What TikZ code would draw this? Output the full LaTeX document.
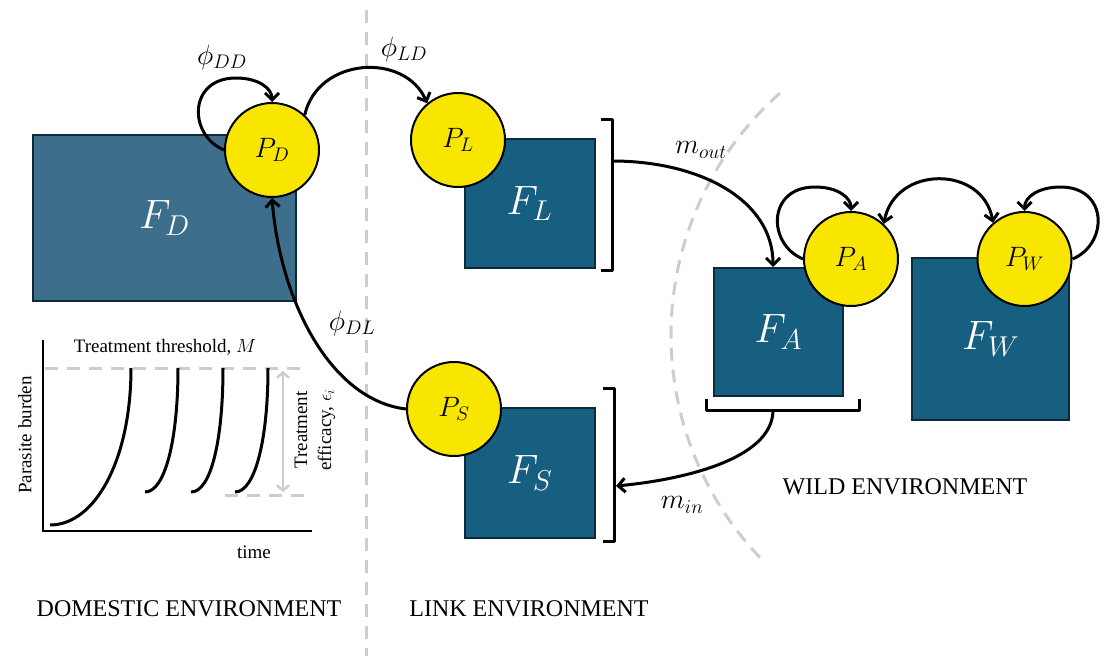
\RequirePackage{fix-cm}
\documentclass[tikz,border=0pt]{standalone}
\usepackage{fontspec}
\setmainfont{Liberation Serif}
\usetikzlibrary{arrows.meta,calc}
\definecolor{boxblue}{HTML}{175F80}
\definecolor{boxblueD}{HTML}{3D6F8D}
\definecolor{boxline}{HTML}{0D2A3A}
\definecolor{pyellow}{HTML}{F8E600}
\definecolor{dgray}{HTML}{CDCDCD}
\begin{document}
\begin{tikzpicture}[x=1pt,y=-1pt,
  fbox/.style={draw=boxline, line width=2pt, fill=boxblue, text=white, inner sep=0pt, font=\fontsize{41}{45}\selectfont},
  pcirc/.style={circle, draw=black, line width=2pt, fill=pyellow, minimum size=94pt, inner sep=0pt, font=\fontsize{28}{32}\selectfont},
  conn/.style={line width=3pt, -{Straight Barb[length=7pt,width=14pt]}},
  conntwo/.style={line width=3pt, {Straight Barb[length=7pt,width=14pt]}-{Straight Barb[length=7pt,width=14pt]}},
  brk/.style={line width=3pt, line join=round},
  dsh/.style={draw=dgray, line width=3pt, dash pattern=on 13pt off 9pt},
  mlab/.style={inner sep=0pt, font=\fontsize{28}{32}\selectfont},
  envlab/.style={inner sep=0pt, font=\fontsize{24}{28}\selectfont},
  smalllab/.style={inner sep=0pt, font=\fontsize{19}{23}\selectfont},
  curve/.style={line width=3pt},
  axisline/.style={line width=1.6pt}
]
\useasboundingbox[fill=white] (0,0) rectangle (1104,672);

% separators
\draw[dsh] (366,10) -- (366,656);
\draw[dsh] (994,335) ++(228.5:323) arc[start angle=228.5, end angle=135, radius=323];

% boxes
\node[fbox, fill=boxblueD, minimum width=263pt, minimum height=166pt] (FD) at (164.5,218) {$F_D$};
\node[fbox, minimum width=130pt, minimum height=129pt] (FL) at (529.5,203.5) {$F_L$};
\node[fbox, minimum width=130pt, minimum height=130pt] (FS) at (529.5,473) {$F_S$};
\node[fbox, minimum width=129pt, minimum height=128pt] (FA) at (778.5,332) {$F_A$};
\node[fbox, minimum width=157pt, minimum height=162pt] (FW) at (990.5,339) {$F_W$};

% parasite circles
\node[pcirc] (PD) at (272,150) {$P_D$};
\node[pcirc] (PL) at (458,140) {$P_L$};
\node[pcirc] (PS) at (454,409) {$P_S$};
\node[pcirc] (PA) at (851,259) {$P_A$};
\node[pcirc] (PW) at (1024.5,259) {$P_W$};

% brackets
\draw[brk] (601,119) -- (612,119) -- (612,270) -- (601,270);
\coordinate (bL) at (612,161);
\draw[brk] (603,388) -- (614,388) -- (614,541) -- (603,541);
\coordinate (bS) at (616,486);
\draw[brk] (706,399) -- (706,410) -- (859,410) -- (859,399);
\coordinate (bA) at (773,410);

% connectors
\draw[conn] (PD.west) .. controls ($(PD)+(-84,-15)$) and ($(PD)+(-84,-72)$) .. ($(PD)+(-36,-72)$)
  .. controls ($(PD)+(-14,-72)$) and ($(PD)+(0,-62)$) .. (PD.north);
\draw[conn] (PD.47) .. controls (318,57) and (405,52) .. (PL.130);
\draw[conn] (PS.west) .. controls (330,400) and (280,300) .. (PD.south);
\draw[conn] (bL) .. controls (700,161) and (773,200) .. (bA |- FA.north);
\draw[conn] (bA) .. controls (773,460) and (680,480) .. (bS);
\draw[conn] (PA.west) .. controls ($(PA)+(-84,-15)$) and ($(PA)+(-84,-72)$) .. ($(PA)+(-36,-72)$)
  .. controls ($(PA)+(-14,-72)$) and ($(PA)+(0,-62)$) .. (PA.north);
\draw[conn] (PW.east) .. controls ($(PW)+(84,-15)$) and ($(PW)+(84,-72)$) .. ($(PW)+(36,-72)$)
  .. controls ($(PW)+(14,-72)$) and ($(PW)+(0,-62)$) .. (PW.north);
\draw[conntwo] (PA.47) .. controls (895,165) and (983,165) .. (PW.131);

% connector labels
\node[mlab] (phiDD) at (222,57) {$\phi_{DD}$};
\node[mlab] (phiLD) at (404,49) {$\phi_{LD}$};
\node[mlab] (phiDL) at (352,323) {$\phi_{DL}$};
\node[mlab] (mout) at (701,150) {$m_{out}$};
\node[mlab] (min) at (682,505) {$m_{in}$};

% environment labels
\node[envlab] (dom) at (189,609) {DOMESTIC ENVIRONMENT};
\node[envlab] (lnk) at (529,609) {LINK ENVIRONMENT};
\node[envlab] (wld) at (905,487) {WILD ENVIRONMENT};

% inset graph
\draw[dsh] (45,368) -- (300,368);
\draw[dsh] (225,495) -- (312,495);
\draw[draw=dgray, line width=2.5pt, {Straight Barb[length=5pt,width=12pt]}-{Straight Barb[length=5pt,width=12pt]}] (283,371) -- (283,492);
\draw[axisline] (43,340) -- (43,531) -- (312,531);
\draw[curve] (50,525) .. controls (95,525) and (131,460) .. (131,368);
\draw[curve] (145,492) .. controls (165,492) and (178,440) .. (178,368);
\draw[curve] (191,492) .. controls (211,492) and (223,440) .. (223,368);
\draw[curve] (235,492) .. controls (255,492) and (268,440) .. (268,368);
\node[smalllab] (thr) at (165,347) {Treatment threshold, $M$};
\node[smalllab, rotate=90] (pb) at (25,435) {Parasite burden};
\node[smalllab] (tm) at (254,552) {time};
\node[smalllab, rotate=90, align=center, font=\fontsize{19}{24}\selectfont] (eff) at (315,430) {Treatment\\efficacy, $\epsilon_i$};
\end{tikzpicture}
\end{document}
